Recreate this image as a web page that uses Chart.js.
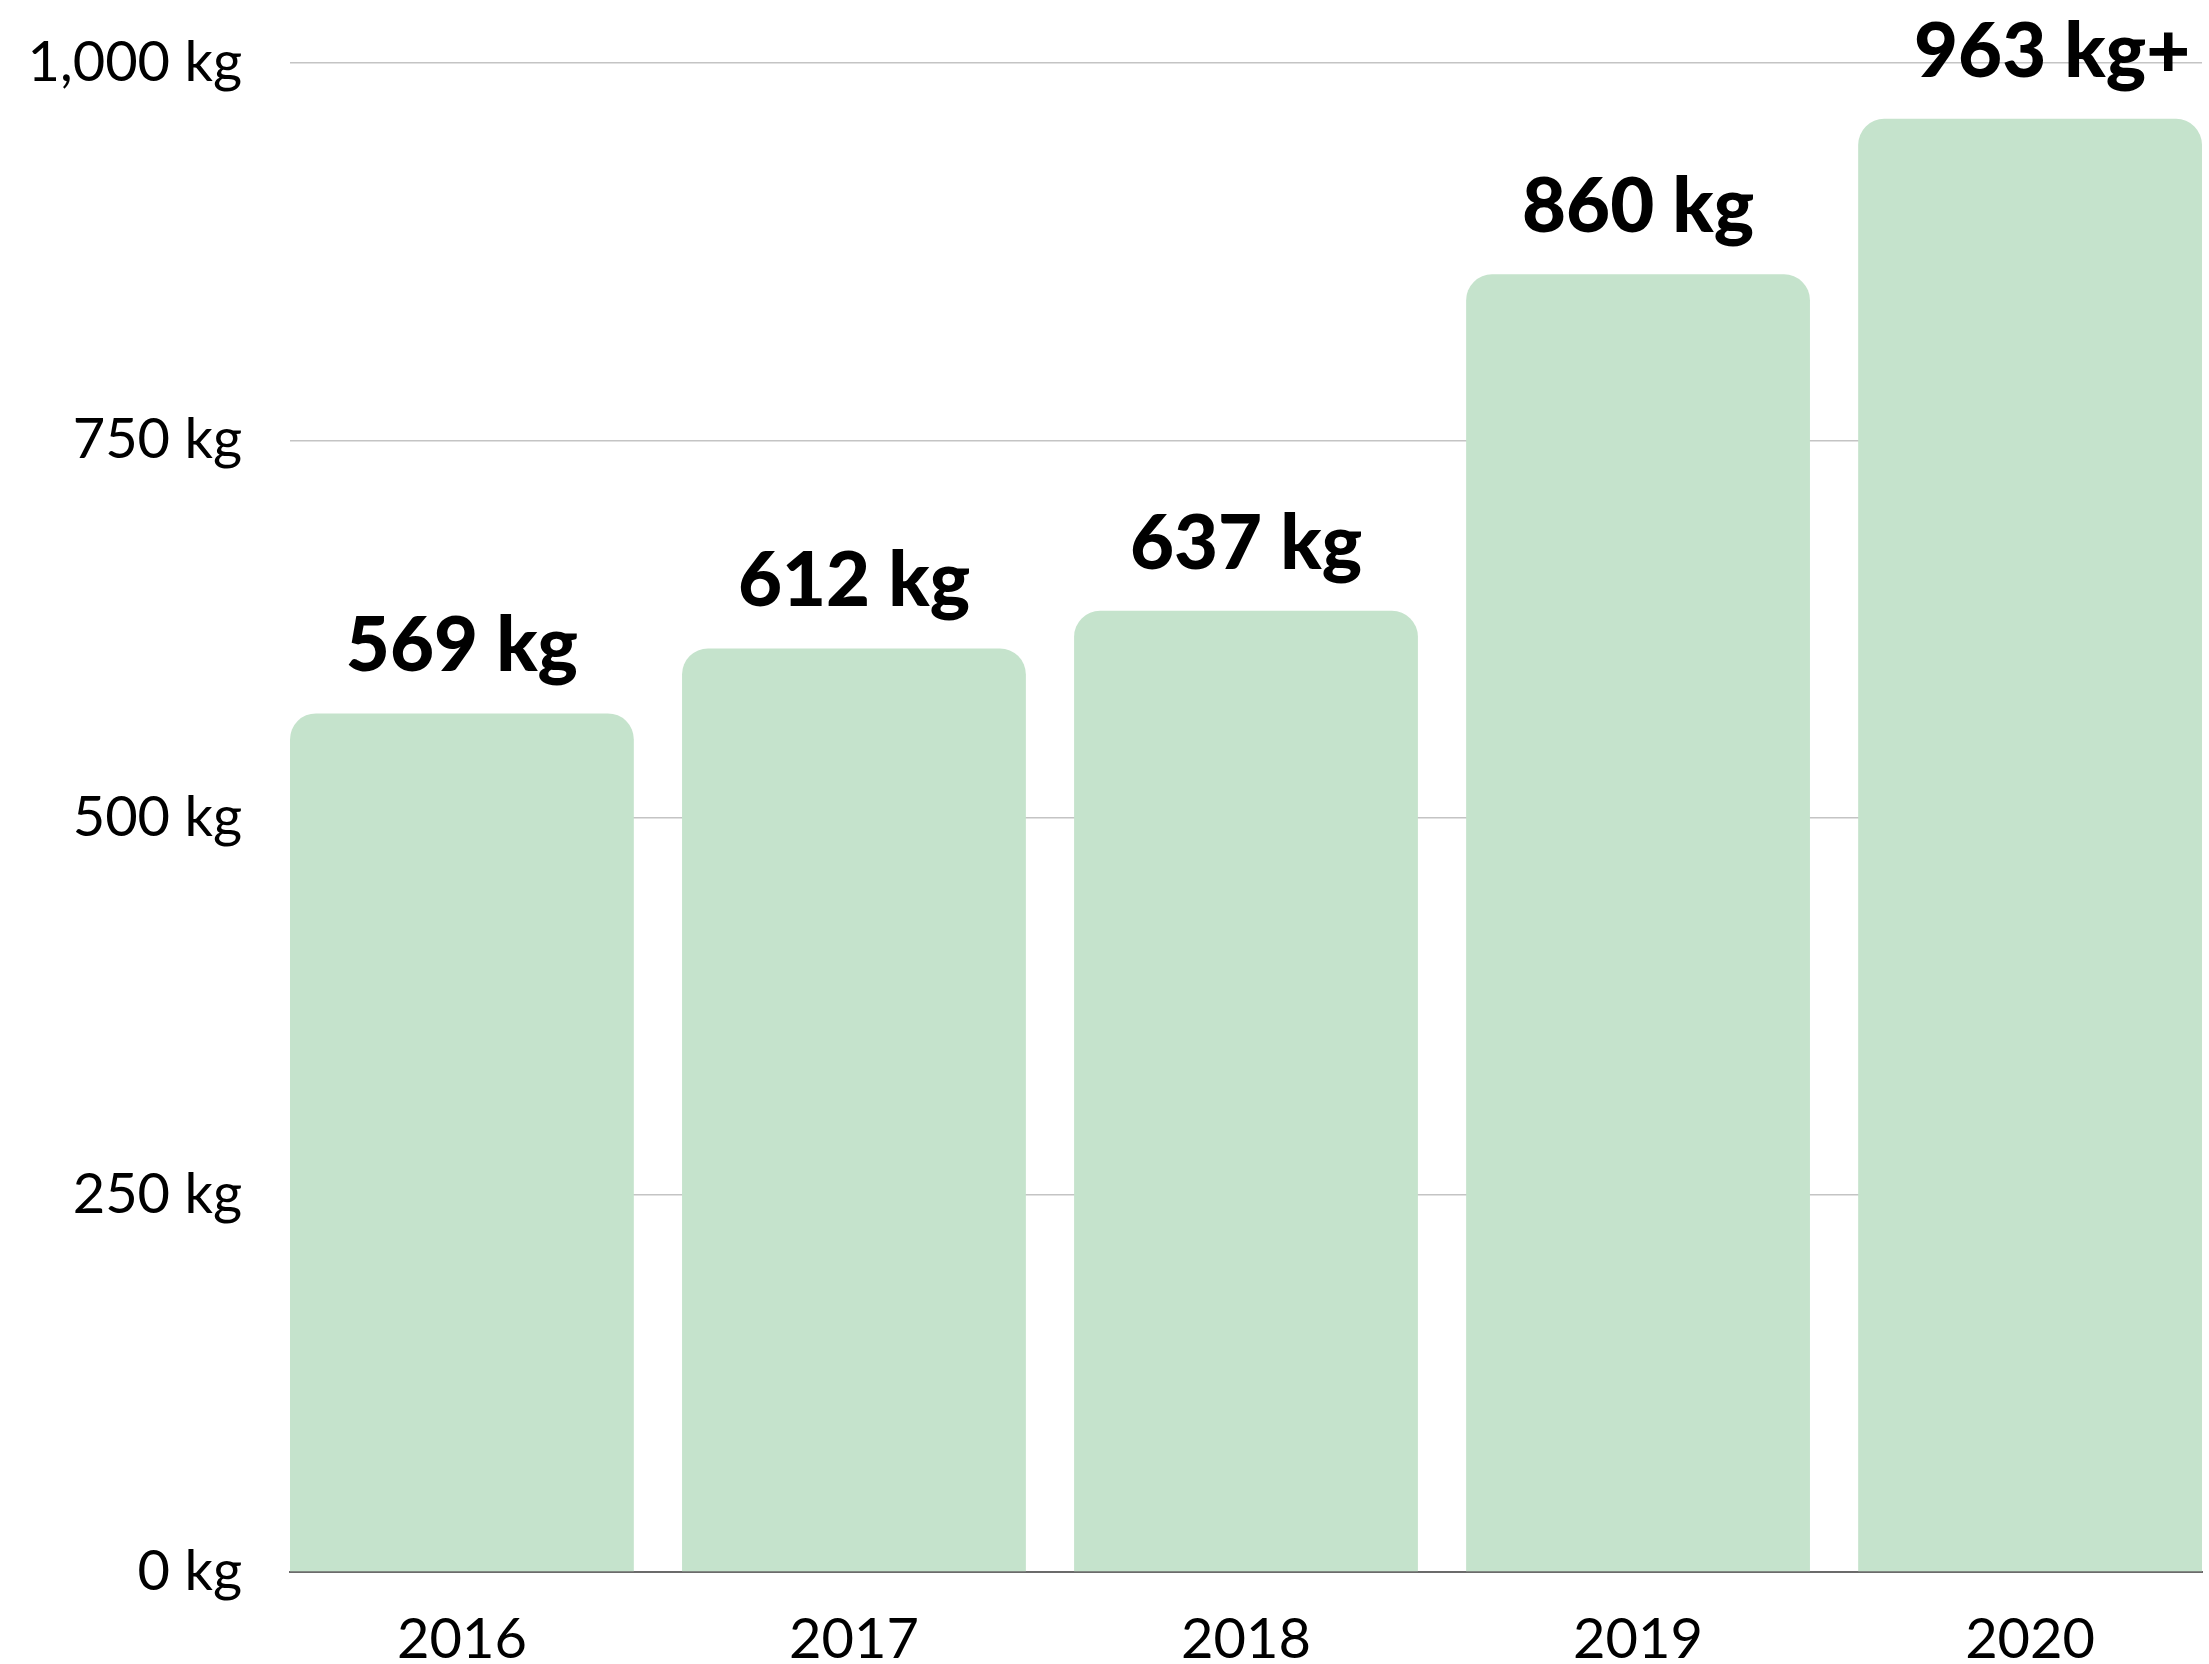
<!DOCTYPE html>
<html>
<head>
<meta charset="utf-8">
<script src="https://cdn.jsdelivr.net/npm/chart.js@4.4.0/dist/chart.umd.min.js"></script>
<style>
  html, body { margin: 0; padding: 0; background: #fff; }
  canvas { display: block; }
</style>
</head>
<body>
<canvas id="wasteChart" width="2209" height="1664"></canvas>
<script>
// data
const years = ['2016', '2017', '2018', '2019', '2020'];
const amounts = [569, 612, 637, 860, 963];
const labelSuffix = ['', '', '', '', '+'];
const yTicks = [0, 250, 500, 750, 1000];

const barColor = '#c5e3cc';
const fontFamily = 'Lato, "Open Sans", sans-serif';

// white background
const bgPlugin = {
  id: 'bg',
  beforeDraw(chart) {
    const ctx = chart.ctx;
    ctx.save();
    ctx.fillStyle = '#fff';
    ctx.fillRect(0, 0, chart.width, chart.height);
    ctx.restore();
  }
};

// "569 kg" labels above the bars
const valueLabels = {
  id: 'valueLabels',
  afterDatasetsDraw(chart) {
    const ctx = chart.ctx;
    const meta = chart.getDatasetMeta(0);
    ctx.save();
    ctx.font = '900 76px ' + fontFamily;
    ctx.fillStyle = '#000';
    ctx.textBaseline = 'alphabetic';
    ctx.textAlign = 'left';
    meta.data.forEach((bar, i) => {
      const main = amounts[i].toLocaleString('en-US') + ' kg';
      const w = ctx.measureText(main).width;
      ctx.fillText(main + labelSuffix[i], bar.x - w / 2, bar.y - 42);
    });
    ctx.restore();
  }
};

const ctx = document.getElementById('wasteChart').getContext('2d');
new Chart(ctx, {
  type: 'bar',
  data: {
    datasets: [{
      data: amounts.map((v, i) => ({ x: i, y: v })),
      backgroundColor: barColor,
      borderWidth: 0,
      borderRadius: { topLeft: 26, topRight: 26, bottomLeft: 0, bottomRight: 0 },
      borderSkipped: false,
      barPercentage: 0.877,
      categoryPercentage: 1
    }]
  },
  options: {
    responsive: false,
    maintainAspectRatio: false,
    animation: false,
    layout: { padding: { top: 63, right: 7, left: 0, bottom: 0 } },
    plugins: {
      legend: { display: false },
      title: { display: false },
      tooltip: { enabled: false }
    },
    scales: {
      x: {
        type: 'linear',
        offset: false,
        min: -0.4385,
        max: 4.4385,
        afterBuildTicks: s => { s.ticks = years.map((_, i) => ({ value: i })); },
        afterFit: s => { s.height = 92; },
        grid: { display: false, drawTicks: false, offset: false },
        border: { display: true, color: '#6b6b6b', width: 2 },
        ticks: {
          padding: 34,
          color: '#000',
          font: { family: fontFamily, size: 56 },
          callback: v => years[v]
        }
      },
      y: {
        min: 0,
        max: 1000,
        afterBuildTicks: s => { s.ticks = yTicks.map(v => ({ value: v })); },
        afterFit: s => { s.width = 290; s.paddingTop = 0; s.paddingBottom = 0; },
        grid: { color: '#c4c4c4', lineWidth: 1.5, drawTicks: false },
        border: { display: false },
        ticks: {
          padding: 48,
          color: '#000',
          font: { family: fontFamily, size: 56 },
          callback: v => v.toLocaleString('en-US') + ' kg'
        }
      }
    }
  },
  plugins: [bgPlugin, valueLabels]
});
</script>
</body>
</html>
